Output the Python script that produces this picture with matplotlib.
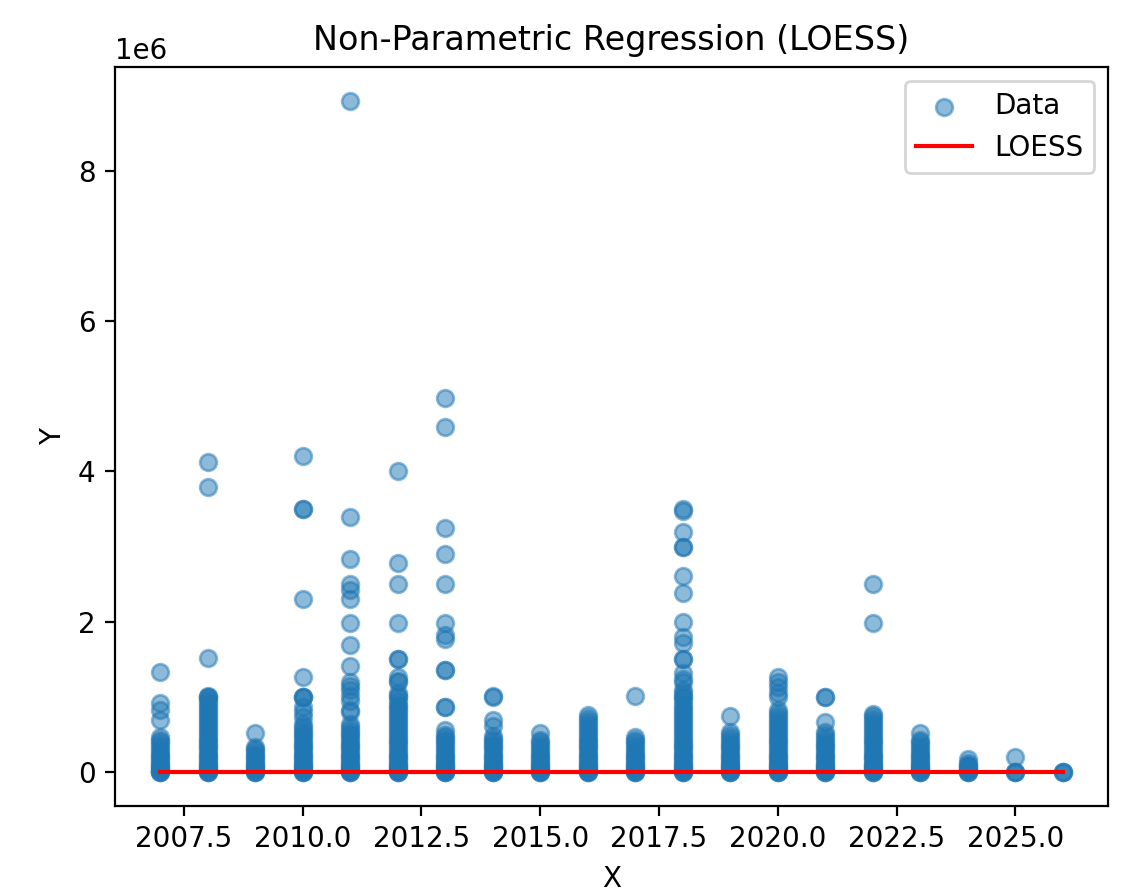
import numpy as np
import matplotlib
matplotlib.use("Agg")
import matplotlib.pyplot as plt

# values, in millions (axis shows 1e6 offset)
y_2007 = [1.33, 0.92, 0.83, 0.69, 0.47, 0.43, 0.40, 0.36, 0.32, 0.28, 0.25, 0.22, 0.19, 0.16, 0.13, 0.10, 0.08, 0.06, 0.04, 0.02, 0.01, 0.0, 0.0]
y_2008 = [4.12, 3.80, 1.52, 1.02, 1.00, 1.00, 0.96, 0.92, 0.88, 0.84, 0.80, 0.76, 0.72, 0.68, 0.64, 0.60, 0.56, 0.52, 0.48, 0.45, 0.42, 0.38, 0.35, 0.32, 0.28, 0.25, 0.22, 0.19, 0.16, 0.13, 0.10, 0.08, 0.06, 0.04, 0.02, 0.01, 0.0, 0.0]
y_2009 = [0.52, 0.34, 0.31, 0.28, 0.25, 0.22, 0.19, 0.16, 0.13, 0.10, 0.08, 0.06, 0.04, 0.02, 0.01, 0.0, 0.0]
y_2010 = [4.20, 3.50, 3.50, 2.30, 1.27, 1.00, 1.00, 1.00, 0.87, 0.80, 0.74, 0.65, 0.61, 0.57, 0.53, 0.50, 0.46, 0.42, 0.38, 0.35, 0.32, 0.28, 0.25, 0.22, 0.19, 0.16, 0.13, 0.10, 0.08, 0.06, 0.04, 0.02, 0.01, 0.0, 0.0]
y_2011 = [8.93, 3.40, 2.84, 2.50, 2.42, 2.30, 1.99, 1.69, 1.42, 1.20, 1.15, 1.09, 1.02, 0.95, 0.83, 0.80, 0.65, 0.61, 0.57, 0.53, 0.50, 0.46, 0.42, 0.38, 0.35, 0.32, 0.28, 0.25, 0.22, 0.19, 0.16, 0.13, 0.10, 0.08, 0.06, 0.04, 0.02, 0.01, 0.0, 0.0]
y_2012 = [4.01, 2.79, 2.50, 1.99, 1.51, 1.51, 1.27, 1.22, 1.20, 1.05, 1.02, 1.00, 0.95, 0.90, 0.87, 0.83, 0.79, 0.75, 0.71, 0.67, 0.63, 0.59, 0.55, 0.51, 0.47, 0.43, 0.40, 0.36, 0.32, 0.28, 0.25, 0.22, 0.19, 0.16, 0.13, 0.10, 0.08, 0.06, 0.04, 0.02, 0.01, 0.0, 0.0]
y_2013 = [4.98, 4.59, 3.25, 2.90, 2.50, 1.99, 1.82, 1.77, 1.36, 1.36, 0.87, 0.87, 0.56, 0.50, 0.47, 0.43, 0.40, 0.36, 0.32, 0.28, 0.25, 0.22, 0.19, 0.16, 0.13, 0.10, 0.08, 0.06, 0.04, 0.02, 0.01, 0.0, 0.0]
y_2014 = [1.01, 1.00, 0.69, 0.62, 0.49, 0.45, 0.42, 0.38, 0.35, 0.32, 0.28, 0.25, 0.22, 0.19, 0.16, 0.13, 0.10, 0.08, 0.06, 0.04, 0.02, 0.01, 0.0, 0.0]
y_2015 = [0.52, 0.43, 0.40, 0.36, 0.32, 0.28, 0.25, 0.22, 0.19, 0.16, 0.13, 0.10, 0.08, 0.06, 0.04, 0.02, 0.01, 0.0, 0.0]
y_2016 = [0.76, 0.72, 0.68, 0.64, 0.60, 0.56, 0.52, 0.48, 0.45, 0.42, 0.38, 0.35, 0.32, 0.28, 0.25, 0.22, 0.19, 0.16, 0.13, 0.10, 0.08, 0.06, 0.04, 0.02, 0.01, 0.0, 0.0]
y_2017 = [1.02, 0.47, 0.43, 0.40, 0.36, 0.32, 0.28, 0.25, 0.22, 0.19, 0.16, 0.13, 0.10, 0.08, 0.06, 0.04, 0.02, 0.01, 0.0, 0.0]
y_2018 = [3.50, 3.48, 3.19, 3.00, 3.00, 2.61, 2.39, 2.00, 1.80, 1.72, 1.51, 1.51, 1.32, 1.24, 1.20, 1.10, 1.05, 1.00, 1.00, 0.95, 0.90, 0.86, 0.82, 0.78, 0.74, 0.70, 0.66, 0.62, 0.58, 0.54, 0.50, 0.46, 0.42, 0.38, 0.35, 0.32, 0.28, 0.25, 0.22, 0.19, 0.16, 0.13, 0.10, 0.08, 0.06, 0.04, 0.02, 0.01, 0.0, 0.0]
y_2019 = [0.75, 0.54, 0.50, 0.46, 0.42, 0.38, 0.35, 0.32, 0.28, 0.25, 0.22, 0.19, 0.16, 0.13, 0.10, 0.08, 0.06, 0.04, 0.02, 0.01, 0.0, 0.0]
y_2020 = [1.27, 1.20, 1.14, 1.05, 1.00, 0.83, 0.79, 0.75, 0.71, 0.67, 0.63, 0.59, 0.55, 0.51, 0.47, 0.43, 0.40, 0.36, 0.32, 0.28, 0.25, 0.22, 0.19, 0.16, 0.13, 0.10, 0.08, 0.06, 0.04, 0.02, 0.01, 0.0, 0.0]
y_2021 = [1.00, 1.00, 0.67, 0.54, 0.50, 0.46, 0.42, 0.38, 0.35, 0.32, 0.28, 0.25, 0.22, 0.19, 0.16, 0.13, 0.10, 0.08, 0.06, 0.04, 0.02, 0.01, 0.0, 0.0]
y_2022 = [2.50, 1.99, 0.78, 0.75, 0.71, 0.67, 0.63, 0.59, 0.55, 0.51, 0.47, 0.43, 0.40, 0.36, 0.32, 0.28, 0.25, 0.22, 0.19, 0.16, 0.13, 0.10, 0.08, 0.06, 0.04, 0.02, 0.01, 0.0, 0.0]
y_2023 = [0.52, 0.43, 0.40, 0.36, 0.32, 0.28, 0.25, 0.22, 0.19, 0.16, 0.13, 0.10, 0.08, 0.06, 0.04, 0.02, 0.01, 0.0, 0.0]
y_2024 = [0.18, 0.12, 0.10, 0.08, 0.06, 0.04, 0.02, 0.01, 0.0, 0.0]
y_2025 = [0.21, 0.0, 0.0, 0.0]
y_2026 = [0.0, 0.0, 0.0]

years = list(range(2007, 2027))
per_year = [y_2007, y_2008, y_2009, y_2010, y_2011, y_2012, y_2013, y_2014, y_2015, y_2016,
            y_2017, y_2018, y_2019, y_2020, y_2021, y_2022, y_2023, y_2024, y_2025, y_2026]

# smoothed curve (practically flat on zero)
loess_y = [0.005, 0.005, 0.005, 0.005, 0.005, 0.005, 0.005, 0.005, 0.005, 0.005,
           0.005, 0.005, 0.005, 0.005, 0.005, 0.005, 0.005, 0.005, 0.005, 0.005]

X = np.concatenate([[yr]*len(v) for yr, v in zip(years, per_year)])
Y = np.concatenate(per_year) * 1e6

fig = plt.figure(figsize=(1138/200, 892/200), dpi=200)
ax = fig.add_axes([115/1138, 86/892, 993/1138, 739/892])
ax.scatter(X, Y, alpha=0.5, label="Data")
ax.plot(years, np.array(loess_y)*1e6, color="red", label="LOESS")
ax.set_title("Non-Parametric Regression (LOESS)")
ax.set_xlabel("X")
ax.set_ylabel("Y")
ax.legend()
fig.savefig("out.png", dpi=200)
